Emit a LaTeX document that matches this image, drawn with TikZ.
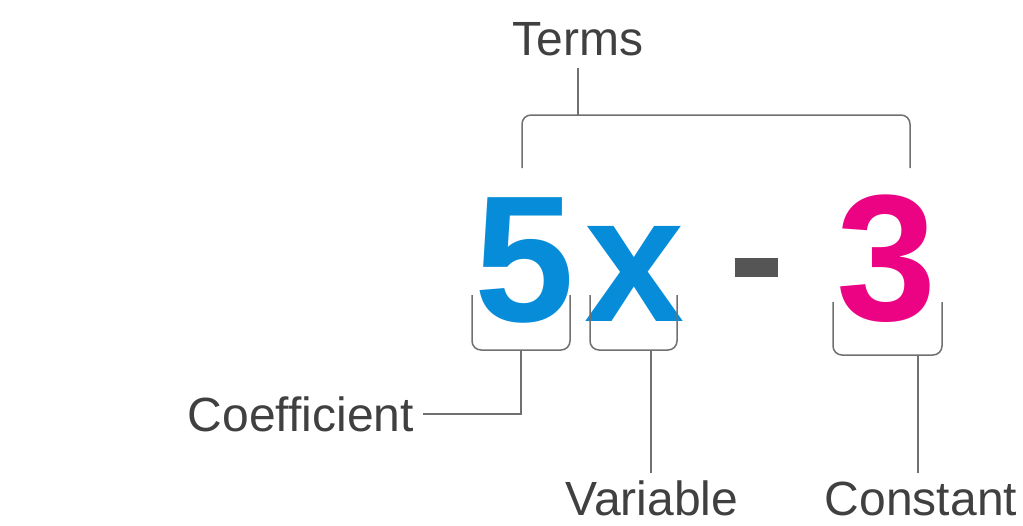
\documentclass[tikz,border=0pt]{standalone}
\usepackage{fontspec}
\setmainfont{Liberation Sans}
\begin{document}
\begin{tikzpicture}[x=1pt,y=-1pt,
  lbl/.style={inner sep=0pt,text=labelgray,font=\fontsize{48}{50}\selectfont},
  big/.style={inner sep=0pt,font=\fontsize{180}{190}\selectfont\bfseries},
  brk/.style={draw=linegray,line width=1.5pt,rounded corners=9pt},
  lead/.style={draw=linegray,line width=1.5pt}]
\definecolor{labelgray}{HTML}{404040}
\definecolor{linegray}{HTML}{707070}
\definecolor{eqblue}{HTML}{068CD8}
\definecolor{eqpink}{HTML}{EC0384}
\definecolor{minusgray}{HTML}{555555}
\useasboundingbox (0,0) rectangle (1023,525);
% labels
\node[lbl,anchor=base] (terms) at (578,55) {Terms};
\node[lbl,anchor=base east] (coef) at (414,431) {Coefficient};
\node[lbl,anchor=base] (var) at (652,515) {Variable};
\node[lbl,anchor=base] (const) at (921,515) {Constant};
% expression
\node[big,anchor=base,text=eqblue] (five) at (525,321) {5};
\node[big,anchor=base,text=eqblue] (ex) at (635,321) {x};
\node[fill=minusgray,minimum width=43pt,minimum height=19pt,inner sep=0pt] (minus) at (756,267) {};
\node[big,anchor=base,text=eqpink] (three) at (887,320) {3};
% top bracket
\coordinate (tstem) at (578,68);
\coordinate (ttop) at (578,115);
\draw[brk] (522,168) -- (522,115) -- (910,115) -- (910,168);
\draw[lead] (tstem) -- (ttop);
% bottom brackets
\draw[brk] (472,295) -- (472,350) -- (570,350) -- (570,295);
\draw[brk] (590,295) -- (590,350) -- (677,350) -- (677,295);
\draw[brk] (833,302) -- (833,355) -- (942,355) -- (942,302);
\coordinate (s5) at (521,350);
\coordinate (sx) at (651,350);
\coordinate (s3) at (918,355);
\coordinate (ex) at (651,473);
\coordinate (e3) at (918,473);
\draw[lead] (s5) |- ([xshift=9pt]coef.east);
\draw[lead] (sx) -- (ex);
\draw[lead] (s3) -- (e3);
\end{tikzpicture}
\end{document}
